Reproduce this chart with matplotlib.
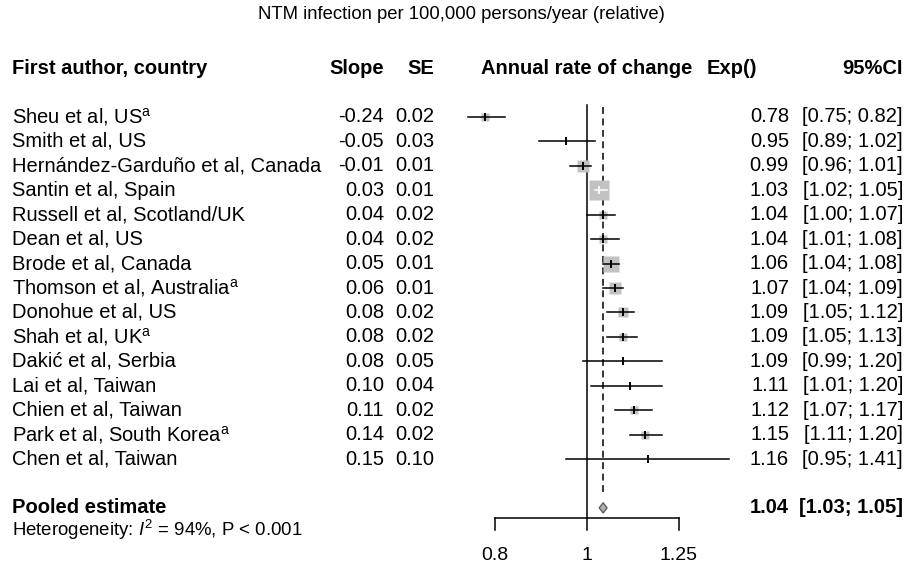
import numpy as np
import matplotlib
matplotlib.use("Agg")
import matplotlib.pyplot as plt
import matplotlib.transforms as mtransforms

plt.rcParams['font.family'] = ['Liberation Sans', 'DejaVu Sans']
plt.rcParams['mathtext.fontset'] = 'custom'
plt.rcParams['mathtext.rm'] = 'Liberation Sans'
plt.rcParams['mathtext.it'] = 'Liberation Sans:italic'

# ---- data ----
studies = [r"Sheu et al, US$^{\mathregular{a}}$", "Smith et al, US",
           "Hernández-Garduño et al, Canada", "Santin et al, Spain",
           "Russell et al, Scotland/UK", "Dean et al, US", "Brode et al, Canada",
           r"Thomson et al, Australia$^{\mathregular{a}}$", "Donohue et al, US",
           r"Shah et al, UK$^{\mathregular{a}}$", "Dakić et al, Serbia",
           "Lai et al, Taiwan", "Chien et al, Taiwan",
           r"Park et al, South Korea$^{\mathregular{a}}$", "Chen et al, Taiwan"]
slope = [-0.24, -0.05, -0.01, 0.03, 0.04, 0.04, 0.05, 0.06, 0.08, 0.08, 0.08, 0.10, 0.11, 0.14, 0.15]
se = [0.02, 0.03, 0.01, 0.01, 0.02, 0.02, 0.01, 0.01, 0.02, 0.02, 0.05, 0.04, 0.02, 0.02, 0.10]
est = [0.78, 0.95, 0.99, 1.03, 1.04, 1.04, 1.06, 1.07, 1.09, 1.09, 1.09, 1.11, 1.12, 1.15, 1.16]
ci_lo = [0.75, 0.89, 0.96, 1.02, 1.00, 1.01, 1.04, 1.04, 1.05, 1.05, 0.99, 1.01, 1.07, 1.11, 0.95]
ci_hi = [0.82, 1.02, 1.01, 1.05, 1.07, 1.08, 1.08, 1.09, 1.12, 1.13, 1.20, 1.20, 1.17, 1.20, 1.41]
weight = [3.4, 0.4, 8.4, 27.7, 5.6, 5.6, 15.6, 10.0, 6.9, 5.6, 0.3, 0.3, 3.4, 4.4, 0.1]
pooled = 1.04
pooled_lo, pooled_hi = 1.03, 1.05
ticks = [0.8, 1, 1.25]
tick_labels = ["0.8", "1", "1.25"]

# ---- layout ----
W, H, DPI = 907, 568, 100
fig = plt.figure(figsize=(W / DPI, H / DPI), dpi=DPI)
ax = fig.add_axes([0, 0, 1, 1])
ax.set_xscale('log')
ax.set_xlim(np.exp(-587 / 412), np.exp((W - 587) / 412))
row0, dy = 117, 24.43
ax.set_ylim((H - row0) / dy, -row0 / dy)
ax.axis('off')

tr = mtransforms.blended_transform_factory(fig.transFigure, ax.transData)
fs = 14.5


def txt(px, row, s, ha='left', **kw):
    kw.setdefault('fontsize', fs)
    ax.text(px / W, row, s, ha=ha, va='center', transform=tr, **kw)


n = len(studies)
rows = np.arange(n)
pooled_row = n + 1

# title and headers
txt(W / 2 + 8, -4.2, "NTM infection per 100,000 persons/year (relative)", ha='center', fontsize=13.3)
txt(12, -2, "First author, country", fontweight='bold')
txt(384, -2, "Slope", ha='right', fontweight='bold')
txt(434, -2, "SE", ha='right', fontweight='bold')
txt(587, -2, "Annual rate of change", ha='center', fontweight='bold')
txt(757, -2, "Exp()", ha='right', fontweight='bold')
txt(903, -2, "95%CI", ha='right', fontweight='bold')

for i in range(n):
    txt(12, rows[i], studies[i])
    txt(384, rows[i], f"{slope[i]:.2f}", ha='right')
    txt(434, rows[i], f"{se[i]:.2f}", ha='right')
    txt(789, rows[i], f"{est[i]:.2f}", ha='right')
    txt(903, rows[i], f"[{ci_lo[i]:.2f}; {ci_hi[i]:.2f}]", ha='right')

txt(12, pooled_row, "Pooled estimate", fontweight='bold')
txt(12, pooled_row + 0.9, r"Heterogeneity: $\mathit{I}^{\mathregular{2}}$ = 94%, P < 0.001", fontsize=13.4)
txt(789, pooled_row, f"{pooled:.2f}", ha='right', fontweight='bold')
txt(903, pooled_row, f"[{pooled_lo:.2f}; {pooled_hi:.2f}]", ha='right', fontweight='bold')

# reference lines
top = -0.49
axis_row = 16.41
ax.plot([1, 1], [top, axis_row], color='black', lw=1.1)
ax.plot([pooled, pooled], [top + 0.1, 15.45], color='black', lw=1.1, dashes=(4.5, 3))

# study boxes and CIs
fig.canvas.draw()
for i in range(n):
    box_px = 20 * np.sqrt(weight[i] / 27.7)
    cx = ax.transData.transform((est[i], rows[i]))[0]
    lo_px = ax.transData.transform((ci_lo[i], rows[i]))[0]
    hi_px = ax.transData.transform((ci_hi[i], rows[i]))[0]
    inside = lo_px >= cx - box_px / 2 and hi_px <= cx + box_px / 2
    c = 'white' if inside else 'black'
    ax.plot(est[i], rows[i], marker='s', ms=box_px * 72 / DPI, color='#c2c2c2', mec='none', zorder=3)
    ax.plot([ci_lo[i], ci_hi[i]], [rows[i], rows[i]], color=c, lw=1.1, zorder=4)
    ax.plot(est[i], rows[i], marker='|', ms=6, mew=1.4, color=c, zorder=5)

# pooled diamond
h = 0.21
ax.fill([pooled_lo, pooled, pooled_hi, pooled],
        [pooled_row, pooled_row - h, pooled_row, pooled_row + h],
        facecolor='#b0b0b0', edgecolor='#555555', lw=0.9, zorder=4)

# x axis
ax.plot([ticks[0], ticks[-1]], [axis_row, axis_row], color='black', lw=1.1)
for t, lab in zip(ticks, tick_labels):
    ax.plot([t, t], [axis_row, axis_row + 0.5], color='black', lw=1.1)
    ax.text(t, 17.93, lab, ha='center', va='center', fontsize=14)

fig.savefig("out.png", dpi=DPI)
